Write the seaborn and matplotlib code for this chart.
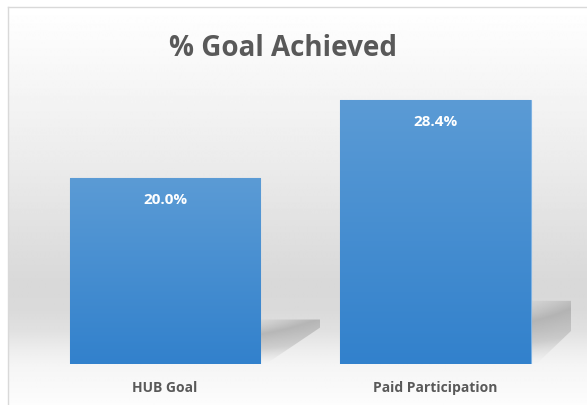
import numpy as np
import pandas as pd
import matplotlib
matplotlib.use("Agg")
import matplotlib.pyplot as plt
from matplotlib.patches import Polygon
from matplotlib.colors import LinearSegmentedColormap
import seaborn as sns

# ---- data ----
categories = ["HUB Goal", "Paid Participation"]
values = [20.0, 28.4]
value_labels = ["20.0%", "28.4%"]
title = "% Goal Achieved"

sns.set_theme(style="white")
plt.rcParams["font.family"] = ["Open Sans", "DejaVu Sans"]

W, H = 587, 405
fig = plt.figure(figsize=(W / 100, H / 100), dpi=100)
fig.patch.set_facecolor("white")

# ---- background panel with vertical gradient ----
bg = fig.add_axes([8 / W, 0, 1 - 8 / W, (H - 7) / H], zorder=0)
ys = np.array([7, 60, 100, 150, 200, 250, 285, 310, 330, 350, 365, 405], float)
gs = np.array([1.0, 0.975, 0.955, 0.93, 0.90, 0.868, 0.848, 0.855, 0.88, 0.93, 0.96, 0.99])
grid = np.arange(7, 406)
col = np.interp(grid, ys, gs)
img = np.repeat(col[:, None], 2, axis=1)
bg.imshow(img, cmap="gray", vmin=0, vmax=1, aspect="auto", extent=[0, 1, 0, 1],
          origin="upper", interpolation="bilinear")
bg.set_xlim(0, 1)
bg.set_ylim(0, 1)
bg.set_xticks([])
bg.set_yticks([])
for s in ["right", "bottom"]:
    bg.spines[s].set_visible(False)
for s in ["top", "left"]:
    bg.spines[s].set_color("#d9d9d9")
    bg.spines[s].set_linewidth(1.0)

# ---- main axes ----
ax = fig.add_axes([29.75 / W, 41 / H, 541 / W, 279 / H], zorder=1)
ax.patch.set_alpha(0)
df = pd.DataFrame({"cat": categories, "val": values})
sns.barplot(data=df, x="cat", y="val", ax=ax, color="#4a90d4", width=0.706,
            saturation=1, edgecolor="#7fb2e2", linewidth=0.8)
ax.set_xlim(-0.5, 1.5)
ax.set_ylim(0, 30)
ax.set_xlabel("")
ax.set_ylabel("")
ax.set_yticks([])
for s in ax.spines.values():
    s.set_visible(False)
ax.tick_params(axis="x", length=0, pad=12, labelsize=10, labelcolor="#595959")
for t in ax.get_xticklabels():
    t.set_fontweight("bold")

bar_cmap = LinearSegmentedColormap.from_list("bar", ["#3281cc", "#5b9bd5"])
shadow_cmap = LinearSegmentedColormap.from_list(
    "sh", [(0.80, 0.80, 0.80, 0.0), (0.6, 0.6, 0.6, 0.35),
           (0.55, 0.55, 0.55, 0.5), (0.7, 0.7, 0.7, 0.15)])

for p, lab in zip(ax.patches, value_labels):
    x0, w, h = p.get_x(), p.get_width(), p.get_height()
    # soft shadow to the right of the bar
    sh_h = h * 0.23
    poly = Polygon([(x0 + w, 0), (x0 + w, sh_h * 1.04), (x0 + w + 0.22, sh_h * 1.04),
                    (x0 + w + 0.22, sh_h * 0.85), (x0 + w + 0.02, 0)],
                   closed=True, facecolor="none", edgecolor="none")
    ax.add_patch(poly)
    yy = np.linspace(0, 1, 64)[:, None]
    xx = np.linspace(0, 1, 64)[None, :]
    vals = yy * (1 - 0.35 * xx)
    im = ax.imshow(vals, cmap=shadow_cmap, vmin=0, vmax=1, aspect="auto", origin="lower",
                   extent=[x0 + w, x0 + w + 0.22, 0, sh_h * 1.04], zorder=0.5,
                   interpolation="bilinear")
    im.set_clip_path(poly)
    # gradient fill of the bar
    bim = ax.imshow(np.linspace(0, 1, 128)[:, None], cmap=bar_cmap, aspect="auto",
                    origin="lower", extent=[x0, x0 + w, 0, h], zorder=p.get_zorder() + 0.1,
                    interpolation="bilinear")
    bim.set_clip_path(p)
    ax.annotate(lab, (x0 + w / 2, h), xytext=(0, -18.7), textcoords="offset points",
                ha="center", va="baseline", color="white", fontsize=11,
                fontweight="bold", zorder=5)
ax.set_xlim(-0.5, 1.5)
ax.set_ylim(0, 30)

fig.text(283 / W, (H - 56) / H, title, ha="center", va="baseline",
         fontsize=20, fontweight="bold", color="#595959")

fig.savefig("out.png", dpi=100)
